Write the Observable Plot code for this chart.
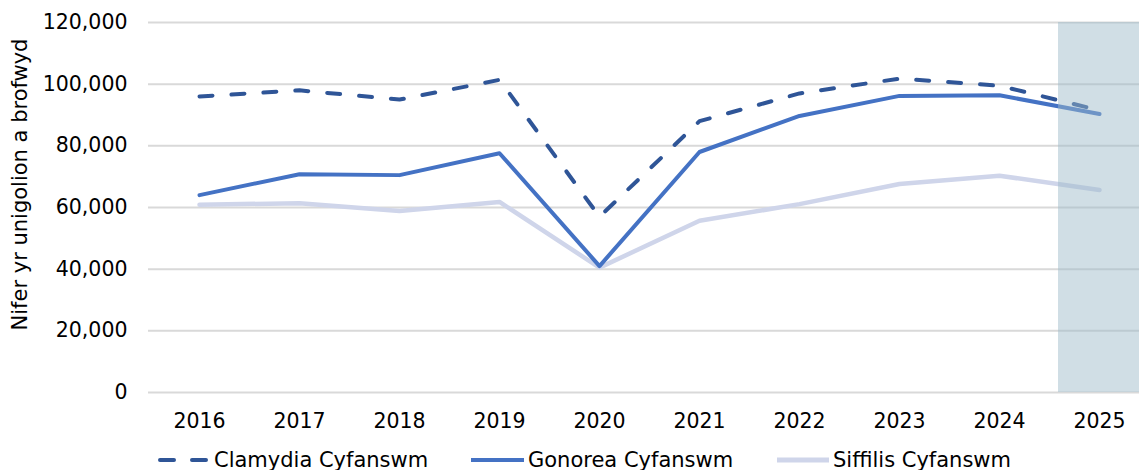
<!DOCTYPE html>
<html><head><meta charset="utf-8">
<script src="https://cdn.jsdelivr.net/npm/d3@7"></script>
<script src="https://cdn.jsdelivr.net/npm/@observablehq/plot@0.6"></script>
<style>
body{margin:0;background:#fff;font-family:"DejaVu Sans",Verdana,sans-serif;}
#legend{position:relative;width:1139px;height:35px;font-size:21px;color:#000;}
#legend .item{position:absolute;top:8px;height:34px;display:flex;align-items:center;white-space:nowrap;}
#legend svg{display:block;}
</style>
</head><body>
<div id="chart"></div>
<div id="legend"></div>
<script>
const years = ["2016","2017","2018","2019","2020","2021","2022","2023","2024","2025"];
const clamydia = [96000, 98000, 95000, 101400, 57000, 88000, 97000, 101800, 99500, 91500];
const gonorea  = [64000, 70800, 70500, 77600, 41000, 78000, 89700, 96200, 96400, 90300];
const siffilis = [60900, 61400, 58900, 61800, 40500, 55700, 61100, 67600, 70300, 65700];
const seriesNames = ["Clamydia Cyfanswm", "Gonorea Cyfanswm", "Siffilis Cyfanswm"];
const seriesColors = ["#2F5597", "#4472C4", "#CFD5EA"];
const shadedYears = ["2025"];
const yTicks = [0, 20000, 40000, 60000, 80000, 100000, 120000];
const yTitle = "Nifer yr unigolion a brofwyd";

const toRows = (vals) => vals.map((v, i) => ({year: years[i], value: v}));
const font = '"DejaVu Sans", Verdana, sans-serif';

const chart = Plot.plot({
  width: 1139,
  height: 435,
  marginTop: 22,
  marginLeft: 148,
  marginRight: 0,
  marginBottom: 43,
  style: {fontFamily: font, fontSize: "20.5px", color: "#000", background: "#fff"},
  x: {type: "band", domain: years, range: [148, 1149], padding: 0},
  y: {domain: [0, 120000]},
  marks: [
    Plot.ruleY(yTicks, {stroke: "#D9D9D9", strokeWidth: 2}),
    Plot.line(toRows(siffilis), {x: "year", y: "value", stroke: seriesColors[2], strokeWidth: 4.5}),
    Plot.line(toRows(gonorea), {x: "year", y: "value", stroke: seriesColors[1], strokeWidth: 4}),
    Plot.line(toRows(clamydia), {x: "year", y: "value", stroke: seriesColors[0], strokeWidth: 4, strokeDasharray: "13 19", strokeLinecap: "round"}),
    Plot.barY(shadedYears, {x: d => d, y: () => 120000, fill: "#9DB9C8", fillOpacity: 0.48, insetLeft: 9, insetRight: 9}),
    Plot.axisX({tickSize: 0, tickPadding: 21, label: null, fontSize: 20.5}),
    Plot.axisY({ticks: yTicks, tickSize: 0, tickPadding: 21, tickFormat: d3.format(","), label: null, fontSize: 20.5}),
    Plot.text([yTitle], {frameAnchor: "left", text: d => d, rotate: -90, dx: -128, dy: -23, fontSize: 21, fill: "#000", textAnchor: "middle", lineAnchor: "middle"})
  ]
});
document.getElementById("chart").appendChild(chart);

// legend
const legend = document.getElementById("legend");
const legendPos = [{sx: 158, tx: 214}, {sx: 471, tx: 528}, {sx: 777, tx: 833}];
seriesNames.forEach((name, i) => {
  const item = document.createElement("div");
  item.className = "item";
  item.style.left = legendPos[i].sx + "px";
  const w = legendPos[i].tx - legendPos[i].sx - 4;
  const dash = i === 0 ? 'stroke-dasharray="14 18" stroke-linecap="round"' : '';
  const x1 = i === 0 ? 2 : 0, x2 = i === 0 ? w - 2 : w;
  item.innerHTML = `<svg width="${w}" height="10"><line x1="${x1}" y1="5" x2="${x2}" y2="5" stroke="${seriesColors[i]}" stroke-width="${i===2?5:4}" ${dash}/></svg><span style="margin-left:4px">${name}</span>`;
  legend.appendChild(item);
});
</script>
</body></html>
